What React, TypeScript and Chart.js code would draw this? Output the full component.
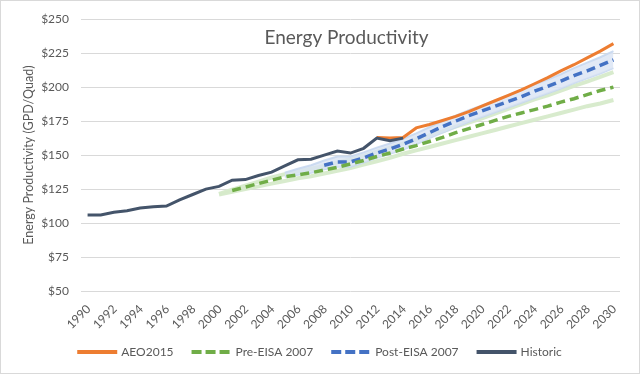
import React, { useEffect, useRef } from 'react';
import { Chart, registerables } from 'chart.js';

Chart.register(...registerables);

const years = [
  '1990', '1991', '1992', '1993', '1994', '1995', '1996', '1997', '1998', '1999',
  '2000', '2001', '2002', '2003', '2004', '2005', '2006', '2007', '2008', '2009',
  '2010', '2011', '2012', '2013', '2014', '2015', '2016', '2017', '2018', '2019',
  '2020', '2021', '2022', '2023', '2024', '2025', '2026', '2027', '2028', '2029',
  '2030',
];

const yTicks = [50, 75, 100, 125, 150, 175, 200, 225, 250];

const _ = null;

// 1990 ... 2030
const historic = [
  106, 106, 108, 109, 111, 112, 112.5, 117, 121, 125,
  127, 131.5, 132, 135, 137.5, 142, 146.5, 147, 150, 153,
  151.5, 155, 162.5, 160.5, 162.5, _, _, _, _, _,
  _, _, _, _, _, _, _, _, _, _,
  _,
];

const aeo2015 = [
  _, _, _, _, _, _, _, _, _, _,
  _, _, _, _, _, _, _, _, _, _,
  _, _, 163, 162.5, 163, 170, 172.5, 175.5, 178.5, 182,
  186, 190, 194, 198, 202.5, 207, 212, 216.5, 221.5, 226.5,
  232,
];

const preEisa = [
  _, _, _, _, _, _, _, _, _, _,
  _, 124, 126.5, 129, 131.5, 134, 135.5, 137, 139, 141,
  143.5, 146, 149, 151.5, 154.5, 157, 160, 163, 166.5, 169.5,
  172.5, 175.5, 178.5, 181, 183.5, 186, 189, 191.5, 194.5, 197.5,
  200,
];

const postEisa = [
  _, _, _, _, _, _, _, _, _, _,
  _, _, _, _, _, _, _, _, 142.5, 145,
  145, 148, 151.5, 154.5, 158, 162, 166.5, 171, 175, 179,
  182.5, 186, 189.5, 193, 197, 200.5, 204.5, 208.5, 212, 216,
  220,
];

const postUpper = [
  _, _, _, _, _, _, _, _, _, _,
  _, _, _, _, _, 137, 140, 142.5, 146, 149,
  149, 152, 155.5, 158.5, 162, 166, 170.5, 175, 179, 183,
  186.5, 190, 194, 198, 202, 205.5, 209.5, 214, 218, 222,
  226.5,
];

const postLower = [
  _, _, _, _, _, _, _, _, _, _,
  _, _, _, _, _, 134, 135.5, 137, 139.5, 141.5,
  141.5, 144.5, 148, 151, 154, 158, 162.5, 166.5, 170.5, 174.5,
  178, 181.5, 185, 188.5, 192, 195.5, 199, 203, 206.5, 210,
  214,
];

const preUpper = [
  _, _, _, _, _, _, _, _, _, _,
  121.5, 124.5, 127.5, 130.5, 133.5, 136, 138, 140, 142, 144.5,
  147, 149.5, 152.5, 155.5, 158.5, 161.5, 164.5, 167.5, 171, 174,
  177, 180.5, 184, 187.5, 191, 194, 197.5, 201, 204, 207.5,
  211,
];

const preLower = [
  _, _, _, _, _, _, _, _, _, _,
  121, 123, 125, 127, 129, 131, 133, 134.5, 136.5, 138.5,
  140.5, 143, 145.5, 148, 151, 153.5, 156, 158.5, 161, 163.5,
  166, 168.5, 171, 173.5, 176, 178.5, 181, 183.5, 186, 188,
  190.5,
];

const seriesNames = ['AEO2015', 'Pre-EISA 2007', 'Post-EISA 2007', 'Historic'];
const titleText = 'Energy Productivity';
const yTitle = 'Energy Productivity (GPD/Quad)';

const FONT = 'Lato, "Open Sans", sans-serif';
const TEXT = '#595959';

export default function App() {
  const ref = useRef<HTMLCanvasElement | null>(null);

  useEffect(() => {
    document.body.style.margin = '0';
    const canvas = ref.current;
    if (!canvas) return;

    const overlay = {
      id: 'overlay',
      afterDraw(chart: any) {
        const ctx = chart.ctx;
        const a = chart.chartArea;
        const xs = chart.scales.x;
        ctx.save();
        // chart title (overlaid in plot area)
        ctx.font = `19px ${FONT}`;
        ctx.fillStyle = TEXT;
        ctx.textAlign = 'center';
        ctx.textBaseline = 'middle';
        ctx.fillText(titleText, (a.left + a.right) / 2 - 4, a.top + 19);
        // x-axis tick labels, rotated 45°
        ctx.font = `12px ${FONT}`;
        ctx.textAlign = 'right';
        ctx.textBaseline = 'middle';
        years.forEach((lab, i) => {
          if (i % 2 !== 0) return;
          const x = xs.getPixelForValue(i);
          ctx.save();
          ctx.translate(x + 1, a.bottom + 16);
          ctx.rotate(-Math.PI / 4);
          ctx.fillText(lab, 0, 0);
          ctx.restore();
        });
        // outer border
        ctx.strokeStyle = '#D9D9D9';
        ctx.lineWidth = 1;
        ctx.strokeRect(0.5, 0.5, chart.width - 1, chart.height - 1);
        ctx.restore();
      },
    };

    const base = {
      pointRadius: 0,
      pointHoverRadius: 0,
      tension: 0,
      spanGaps: false,
      fill: false,
    };

    const chart = new Chart(canvas, {
      type: 'line',
      data: {
        labels: years,
        datasets: [
          { ...base, label: seriesNames[0], data: aeo2015, borderColor: '#ED7D31', borderWidth: 3, order: 1 },
          { ...base, label: seriesNames[1], data: preEisa, borderColor: '#70AD47', borderWidth: 3.5, borderDash: [9, 5], order: 2 },
          { ...base, label: seriesNames[2], data: postEisa, borderColor: '#4472C4', borderWidth: 3.5, borderDash: [9, 5], order: 3 },
          { ...base, label: seriesNames[3], data: historic, borderColor: '#44546A', borderWidth: 3, order: 0 },
          { ...base, label: 'Post band upper', data: postUpper, borderColor: 'rgba(200,216,240,0.9)', borderWidth: 2, fill: '+1', backgroundColor: 'rgba(218,228,244,0.8)', order: 5 },
          { ...base, label: 'Post band lower', data: postLower, borderColor: 'rgba(200,216,240,0.9)', borderWidth: 2, order: 6 },
          { ...base, label: 'Pre band upper', data: preUpper, borderColor: 'rgba(214,234,202,0.95)', borderWidth: 4, order: 7 },
          { ...base, label: 'Pre band lower', data: preLower, borderColor: 'rgba(214,234,202,0.95)', borderWidth: 4, order: 8 },
        ],
      },
      options: {
        responsive: false,
        animation: false,
        events: [],
        layout: { padding: { left: 21, right: 20, top: 17, bottom: 6 } },
        plugins: {
          tooltip: { enabled: false },
          title: { display: false },
          legend: {
            display: true,
            position: 'bottom',
            labels: {
              usePointStyle: true,
              pointStyleWidth: 36,
              boxHeight: 12,
              padding: 20,
              color: TEXT,
              font: { family: FONT, size: 12 },
              generateLabels: (c: any) =>
                c.data.datasets.slice(0, 4).map((ds: any, i: number) => ({
                  text: ds.label,
                  fillStyle: ds.borderColor,
                  strokeStyle: ds.borderColor,
                  lineWidth: 4,
                  lineDash: ds.borderDash ? [6, 8] : [],
                  lineCap: 'square',
                  pointStyle: 'line',
                  hidden: false,
                  datasetIndex: i,
                  fontColor: TEXT,
                })),
            },
          },
        },
        scales: {
          x: {
            type: 'category',
            offset: true,
            grid: { display: false },
            border: { display: false },
            ticks: { display: false },
            afterFit: (scale: any) => {
              const lg = scale.chart.legend;
              const lh = lg ? lg.height : 0;
              scale.height = 374 - 291 - lh - 6;
            },
          },
          y: {
            min: 50,
            max: 250,
            afterBuildTicks: (scale: any) => {
              scale.ticks = yTicks.map((v) => ({ value: v }));
            },
            grid: { color: '#D9D9D9', lineWidth: 1, drawTicks: false },
            border: { display: false },
            ticks: {
              padding: 12,
              color: TEXT,
              font: { family: FONT, size: 12 },
              callback: (v: any) => '$' + v,
            },
            title: {
              display: true,
              text: yTitle,
              color: TEXT,
              font: { family: FONT, size: 12.5 },
              padding: { top: 0, bottom: 0 },
            },
            afterFit: (scale: any) => {
              scale.width = 60;
            },
          },
        },
      },
      plugins: [overlay],
    } as any);

    return () => chart.destroy();
  }, []);

  return (
    <div style={{ width: 640, height: 374, position: 'relative' }}>
      <canvas ref={ref} width={640} height={374} style={{ display: 'block' }} />
    </div>
  );
}
